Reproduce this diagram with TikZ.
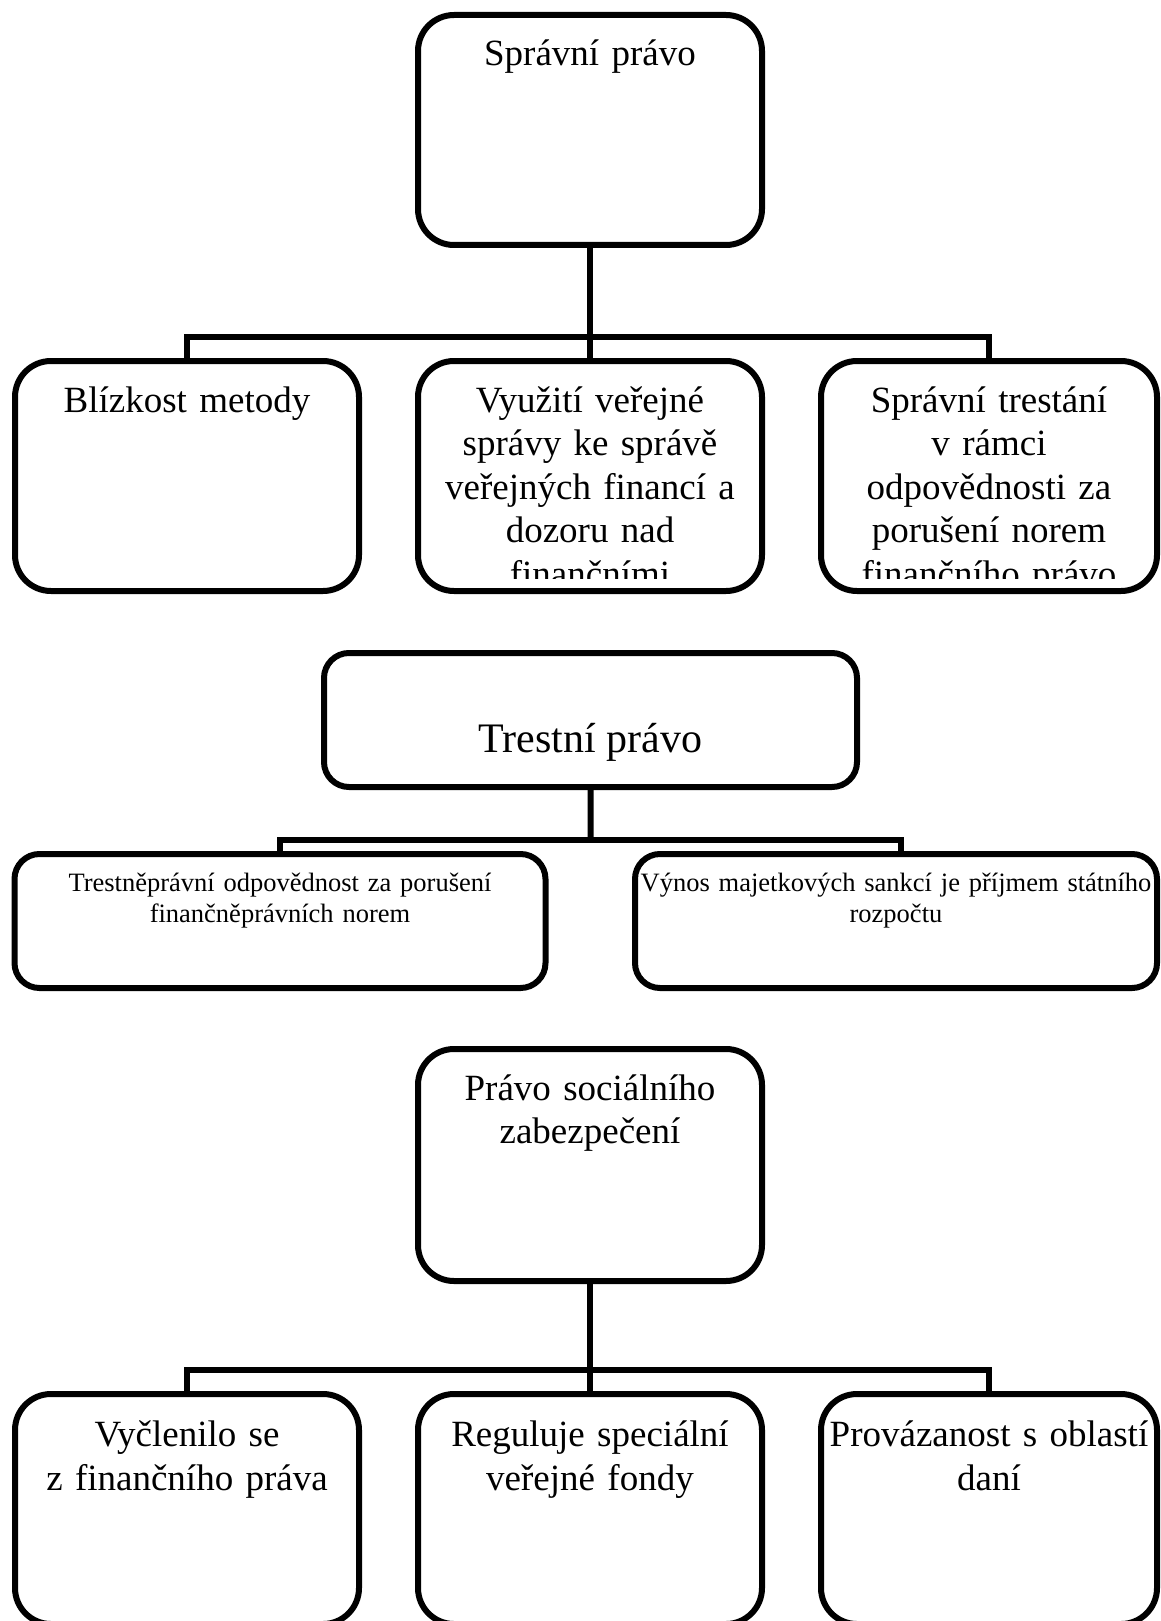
\documentclass[tikz,border=0pt]{standalone}
\usepackage{fontspec}
\setmainfont{Liberation Serif}
\usetikzlibrary{positioning, calc}

\begin{document}
\begin{tikzpicture}[x=1pt,y=-1pt,line width=6pt]
	\def \rowone{130}
	\def \rowtwo{476}
	\def \rowthree{720}
	\def \rowfour{921}
	\def \rowfive{1165}
	\def \rowsix{1509}
	\def \tstrut{\rule{0pt}{1em}}
	\tikzstyle{big-box}=[draw,rounded corners=36pt,minimum width=344pt,minimum height=230pt,inner sep=0pt]
	\tikzstyle{wide-box}=[draw,rounded corners=25pt,minimum width=531pt,minimum height=134pt,inner sep=0pt]
	\tikzstyle{big-text}=[anchor=north,inner sep=0pt,text width=340pt,align=center,font=\fontsize{37}{43.5}\selectfont]
	\tikzstyle{small-text}=[anchor=north,inner sep=0pt,text width=515pt,align=center,font=\fontsize{26.5}{31}\selectfont]
	\useasboundingbox (0,0) rectangle (1160,1621);

	% spravni pravo
	\node[big-box] (spr)	at (590,\rowone)	{};
	\node[big-box] (blz)	at (187,\rowtwo)	{};
	\node[big-box] (vyu)	at (590,\rowtwo)	{};
	\node[big-box,minimum width=336pt] (sprtr)	at (989,\rowtwo)	{};
	\node[big-text, below=14pt of spr.north] (spr-t) {\tstrut Správní právo};
	\node[big-text, below=14pt of blz.north] (blz-t) {\tstrut Blízkost metody};
	\begin{scope}
		\clip (vyu.north west) rectangle ([yshift=16pt]vyu.south east);
		\node[big-text, below=14pt of vyu.north] (vyu-t) {\tstrut Využití veřejné\\správy ke správě\\veřejných financí a\\dozoru nad\\finančními};
	\end{scope}
	\begin{scope}
		\clip (sprtr.north west) rectangle ([yshift=16pt]sprtr.south east);
		\node[big-text, below=14pt of sprtr.north] (sprtr-t) {\tstrut Správní trestání\\v rámci\\odpovědnosti za\\porušení norem\\finančního právo};
	\end{scope}

	% trestni pravo
	\node[wide-box,minimum width=533pt] (trp)	at (590.5,\rowthree)	{};
	\node[wide-box] (tpo)	at (280,\rowfour)	{};
	\node[wide-box,minimum width=522pt] (vms)	at (896,\rowfour)	{};
	\node[anchor=north,inner sep=0pt,font=\fontsize{42}{48}\selectfont, below=57pt of trp.north] (trp-t) {\tstrut Trestní právo};
	\node[small-text, below=11pt of tpo.north] (tpo-t) {\tstrut Trestněprávní odpovědnost za porušení\\finančněprávních norem};
	\node[small-text, below=11pt of vms.north] (vms-t) {\tstrut Výnos majetkových sankcí je příjmem státního\\rozpočtu};

	% pravo socialniho zabezpeceni
	\node[big-box,minimum height=232pt] (psz)	at (590,\rowfive)	{};
	\node[big-box] (vyc)	at (187,\rowsix)	{};
	\node[big-box] (reg)	at (590,\rowsix)	{};
	\node[big-box,minimum width=336pt] (prov)	at (989,\rowsix)	{};
	\node[big-text, below=14pt of psz.north] (psz-t) {\tstrut Právo sociálního\\zabezpečení};
	\node[big-text, below=15.5pt of vyc.north] (vyc-t) {\tstrut Vyčlenilo se\\z finančního práva};
	\node[big-text, below=15.5pt of reg.north] (reg-t) {\tstrut Reguluje speciální\\veřejné fondy};
	\node[big-text, below=15.5pt of prov.north] (prov-t) {\tstrut Provázanost s oblastí\\daní};

	% connectors
	\draw (spr) -- (vyu);
	\draw (blz.north) -- ++(0,-21.5) -| (sprtr.north);
	\draw (trp) -- ($(trp.south)!.77!(trp.south |- tpo.north)$);
	\draw (tpo.north) -- ++(0,-11) -| ([xshift=5pt]vms.north);
	\draw (psz) -- (reg);
	\draw (vyc.north) -- ++(0,-21.5) -| (prov.north);
\end{tikzpicture}
\end{document}
